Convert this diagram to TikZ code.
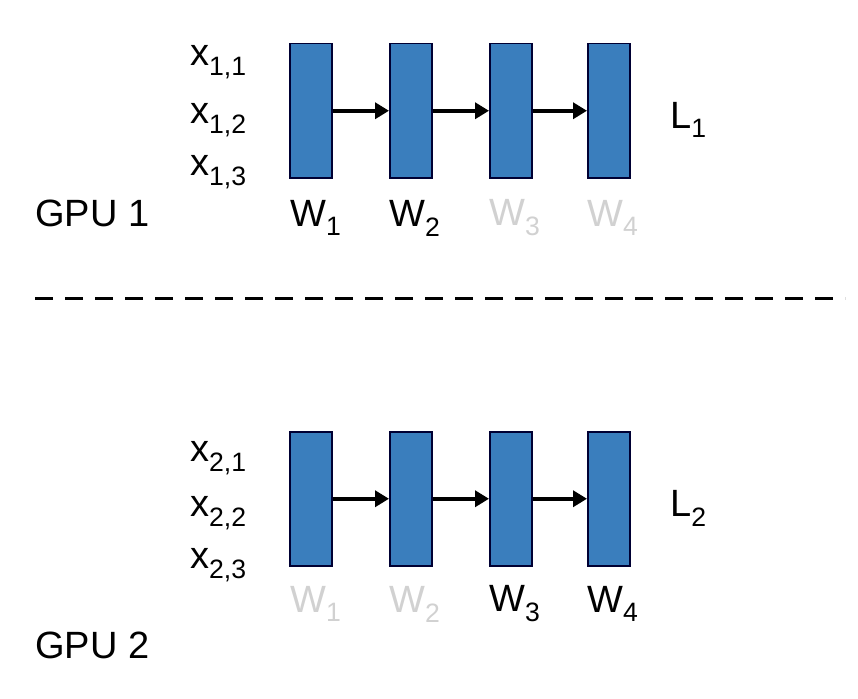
\documentclass[tikz,border=0pt]{standalone}
\usepackage{fontspec}
\setmainfont{Liberation Sans}
\usetikzlibrary{arrows.meta}
\begin{document}
\begin{tikzpicture}[x=1pt,y=-1pt,
  blk/.style={draw=black!80!blue,line width=1.5pt,fill=blue!45!cyan!60!black!90,fill=c1,minimum width=42pt,minimum height=134pt,inner sep=0,anchor=north west},
  arr/.style={line width=4pt,-{Triangle[length=14pt,width=16pt]}},
  lab/.style={font=\fontsize{38}{44}\selectfont,inner sep=0,anchor=west},
  gr/.style={text=black!18}]
\definecolor{c1}{HTML}{3A7EBD}
\useasboundingbox (0,0) rectangle (858,698);
\foreach \r/\y in {1/43,2/431}{
  \node[blk] (a\r) at (289,\y) {};
  \node[blk] (b\r) at (389,\y) {};
  \node[blk] (c\r) at (489,\y) {};
  \node[blk] (d\r) at (587,\y) {};
  \draw[arr] (a\r.east) -- (b\r.west);
  \draw[arr] (b\r.east) -- (c\r.west);
  \draw[arr] (c\r.east) -- (d\r.west);
}
\node[lab] (x11) at (190,62) {x\textsubscript{1,1}};
\node[lab] (x12) at (190,120) {x\textsubscript{1,2}};
\node[lab] (x13) at (190,172) {x\textsubscript{1,3}};
\node[lab] (g1) at (35,213) {GPU 1};
\node[lab] (w11) at (290,218) {W\textsubscript{1}};
\node[lab] (w12) at (389,218) {W\textsubscript{2}};
\node[lab,gr] (w13) at (489,218) {W\textsubscript{3}};
\node[lab,gr] (w14) at (587,218) {W\textsubscript{4}};
\node[lab] (l1) at (670,120) {L\textsubscript{1}};
\draw[line width=3pt,dash pattern=on 18pt off 12pt] (35,298) coordinate (d0) -- (845,298) coordinate (d1);
\node[lab] (x21) at (190,458) {x\textsubscript{2,1}};
\node[lab] (x22) at (190,513) {x\textsubscript{2,2}};
\node[lab] (x23) at (190,565) {x\textsubscript{2,3}};
\node[lab] (g2) at (35,645) {GPU 2};
\node[lab,gr] (w21) at (290,604) {W\textsubscript{1}};
\node[lab,gr] (w22) at (389,604) {W\textsubscript{2}};
\node[lab] (w23) at (489,604) {W\textsubscript{3}};
\node[lab] (w24) at (587,604) {W\textsubscript{4}};
\node[lab] (l2) at (670,508) {L\textsubscript{2}};
\end{tikzpicture}
\end{document}
